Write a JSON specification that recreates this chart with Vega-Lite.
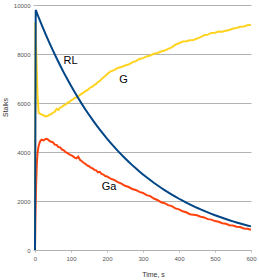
{
  "$schema": "https://vega.github.io/schema/vega-lite/v6.json",
  "width": 216,
  "height": 245,
  "autosize": {"type": "none"},
  "padding": {"left": 35, "top": 5, "right": 8, "bottom": 30},
  "background": "white",
  "config": {
    "view": {"stroke": null},
    "font": "Liberation Sans",
    "axis": {
      "labelFont": "Liberation Sans",
      "titleFont": "Liberation Sans",
      "labelFontSize": 6,
      "labelColor": "#555555",
      "titleFontSize": 7,
      "titleFontWeight": "normal",
      "titleColor": "#333333",
      "domain": false,
      "tickSize": 2,
      "tickColor": "#b3b3b3",
      "gridColor": "#b3b3b3",
      "gridWidth": 1,
      "labelPadding": 3,
      "labelFlush": false,
      "format": "d"
    }
  },
  "datasets": {
    "series": [
      {"s":"Ga","t":0,"v":0},{"s":"Ga","t":1,"v":1300},{"s":"Ga","t":3,"v":2600},{"s":"Ga","t":5,"v":3500},{"s":"Ga","t":7,"v":3950},{"s":"Ga","t":10,"v":4250},{"s":"Ga","t":14,"v":4430},{"s":"Ga","t":18,"v":4500},{"s":"Ga","t":24,"v":4470},{"s":"Ga","t":30,"v":4540},{"s":"Ga","t":35,"v":4520},{"s":"Ga","t":40,"v":4450},{"s":"Ga","t":45,"v":4420},{"s":"Ga","t":50,"v":4390},{"s":"Ga","t":55,"v":4300},{"s":"Ga","t":60,"v":4290},{"s":"Ga","t":65,"v":4200},{"s":"Ga","t":70,"v":4190},{"s":"Ga","t":75,"v":4100},{"s":"Ga","t":80,"v":4070},{"s":"Ga","t":85,"v":3990},{"s":"Ga","t":90,"v":3960},{"s":"Ga","t":95,"v":3900},{"s":"Ga","t":100,"v":3870},{"s":"Ga","t":105,"v":3830},{"s":"Ga","t":110,"v":3770},{"s":"Ga","t":115,"v":3740},{"s":"Ga","t":120,"v":3810},{"s":"Ga","t":125,"v":3680},{"s":"Ga","t":130,"v":3620},{"s":"Ga","t":135,"v":3560},{"s":"Ga","t":140,"v":3520},{"s":"Ga","t":145,"v":3450},{"s":"Ga","t":150,"v":3420},{"s":"Ga","t":155,"v":3360},{"s":"Ga","t":160,"v":3330},{"s":"Ga","t":165,"v":3270},{"s":"Ga","t":170,"v":3250},{"s":"Ga","t":175,"v":3170},{"s":"Ga","t":180,"v":3190},{"s":"Ga","t":185,"v":3110},{"s":"Ga","t":190,"v":3080},{"s":"Ga","t":195,"v":3020},{"s":"Ga","t":200,"v":3000},{"s":"Ga","t":210,"v":2910},{"s":"Ga","t":220,"v":2860},{"s":"Ga","t":230,"v":2770},{"s":"Ga","t":240,"v":2710},{"s":"Ga","t":250,"v":2620},{"s":"Ga","t":260,"v":2570},{"s":"Ga","t":270,"v":2490},{"s":"Ga","t":280,"v":2450},{"s":"Ga","t":290,"v":2370},{"s":"Ga","t":300,"v":2330},{"s":"Ga","t":310,"v":2240},{"s":"Ga","t":320,"v":2200},{"s":"Ga","t":330,"v":2100},{"s":"Ga","t":340,"v":2040},{"s":"Ga","t":350,"v":1950},{"s":"Ga","t":360,"v":1910},{"s":"Ga","t":370,"v":1830},{"s":"Ga","t":380,"v":1790},{"s":"Ga","t":390,"v":1700},{"s":"Ga","t":400,"v":1660},{"s":"Ga","t":410,"v":1580},{"s":"Ga","t":420,"v":1540},{"s":"Ga","t":430,"v":1460},{"s":"Ga","t":440,"v":1440},{"s":"Ga","t":450,"v":1420},{"s":"Ga","t":460,"v":1360},{"s":"Ga","t":470,"v":1330},{"s":"Ga","t":480,"v":1260},{"s":"Ga","t":490,"v":1240},{"s":"Ga","t":500,"v":1180},{"s":"Ga","t":510,"v":1150},{"s":"Ga","t":520,"v":1090},{"s":"Ga","t":530,"v":1070},{"s":"Ga","t":540,"v":1010},{"s":"Ga","t":550,"v":1000},{"s":"Ga","t":560,"v":950},{"s":"Ga","t":570,"v":940},{"s":"Ga","t":580,"v":880},{"s":"Ga","t":590,"v":870},{"s":"Ga","t":600,"v":830},
      {"s":"G","t":0,"v":0},{"s":"G","t":1,"v":9300},{"s":"G","t":4,"v":7800},{"s":"G","t":7,"v":6300},{"s":"G","t":10,"v":5600},{"s":"G","t":20,"v":5520},{"s":"G","t":30,"v":5450},{"s":"G","t":35,"v":5470},{"s":"G","t":40,"v":5520},{"s":"G","t":45,"v":5540},{"s":"G","t":50,"v":5610},{"s":"G","t":55,"v":5640},{"s":"G","t":60,"v":5760},{"s":"G","t":65,"v":5720},{"s":"G","t":70,"v":5810},{"s":"G","t":75,"v":5840},{"s":"G","t":80,"v":5910},{"s":"G","t":85,"v":5930},{"s":"G","t":90,"v":6010},{"s":"G","t":95,"v":6030},{"s":"G","t":100,"v":6110},{"s":"G","t":105,"v":6140},{"s":"G","t":110,"v":6210},{"s":"G","t":115,"v":6220},{"s":"G","t":120,"v":6280},{"s":"G","t":125,"v":6330},{"s":"G","t":130,"v":6380},{"s":"G","t":135,"v":6420},{"s":"G","t":140,"v":6490},{"s":"G","t":145,"v":6520},{"s":"G","t":150,"v":6580},{"s":"G","t":155,"v":6640},{"s":"G","t":160,"v":6670},{"s":"G","t":165,"v":6740},{"s":"G","t":170,"v":6780},{"s":"G","t":175,"v":6860},{"s":"G","t":180,"v":6890},{"s":"G","t":185,"v":6980},{"s":"G","t":190,"v":7040},{"s":"G","t":195,"v":7100},{"s":"G","t":200,"v":7170},{"s":"G","t":210,"v":7290},{"s":"G","t":220,"v":7340},{"s":"G","t":230,"v":7430},{"s":"G","t":240,"v":7470},{"s":"G","t":250,"v":7530},{"s":"G","t":260,"v":7570},{"s":"G","t":270,"v":7660},{"s":"G","t":280,"v":7710},{"s":"G","t":290,"v":7800},{"s":"G","t":300,"v":7830},{"s":"G","t":310,"v":7900},{"s":"G","t":320,"v":7940},{"s":"G","t":330,"v":8010},{"s":"G","t":340,"v":8040},{"s":"G","t":350,"v":8100},{"s":"G","t":360,"v":8140},{"s":"G","t":370,"v":8210},{"s":"G","t":380,"v":8270},{"s":"G","t":390,"v":8380},{"s":"G","t":400,"v":8440},{"s":"G","t":410,"v":8510},{"s":"G","t":420,"v":8520},{"s":"G","t":430,"v":8560},{"s":"G","t":440,"v":8570},{"s":"G","t":450,"v":8630},{"s":"G","t":460,"v":8690},{"s":"G","t":470,"v":8770},{"s":"G","t":480,"v":8790},{"s":"G","t":490,"v":8860},{"s":"G","t":500,"v":8870},{"s":"G","t":510,"v":8920},{"s":"G","t":520,"v":8910},{"s":"G","t":530,"v":8950},{"s":"G","t":540,"v":8980},{"s":"G","t":550,"v":9040},{"s":"G","t":560,"v":9060},{"s":"G","t":570,"v":9110},{"s":"G","t":580,"v":9120},{"s":"G","t":590,"v":9170},{"s":"G","t":600,"v":9190},
      {"s":"RL","t":0,"v":0},{"s":"RL","t":2,"v":9800},{"s":"RL","t":10,"v":9500},{"s":"RL","t":20,"v":9140},{"s":"RL","t":30,"v":8790},{"s":"RL","t":40,"v":8457},{"s":"RL","t":50,"v":8135},{"s":"RL","t":60,"v":7825},{"s":"RL","t":70,"v":7528},{"s":"RL","t":80,"v":7241},{"s":"RL","t":90,"v":6966},{"s":"RL","t":100,"v":6700},{"s":"RL","t":110,"v":6446},{"s":"RL","t":120,"v":6200},{"s":"RL","t":130,"v":5964},{"s":"RL","t":140,"v":5737},{"s":"RL","t":150,"v":5519},{"s":"RL","t":160,"v":5309},{"s":"RL","t":170,"v":5107},{"s":"RL","t":180,"v":4913},{"s":"RL","t":190,"v":4726},{"s":"RL","t":200,"v":4546},{"s":"RL","t":210,"v":4373},{"s":"RL","t":220,"v":4206},{"s":"RL","t":230,"v":4046},{"s":"RL","t":240,"v":3892},{"s":"RL","t":250,"v":3744},{"s":"RL","t":260,"v":3602},{"s":"RL","t":270,"v":3465},{"s":"RL","t":280,"v":3333},{"s":"RL","t":290,"v":3206},{"s":"RL","t":300,"v":3084},{"s":"RL","t":310,"v":2966},{"s":"RL","t":320,"v":2854},{"s":"RL","t":330,"v":2745},{"s":"RL","t":340,"v":2641},{"s":"RL","t":350,"v":2540},{"s":"RL","t":360,"v":2444},{"s":"RL","t":370,"v":2351},{"s":"RL","t":380,"v":2261},{"s":"RL","t":390,"v":2175},{"s":"RL","t":400,"v":2092},{"s":"RL","t":410,"v":2013},{"s":"RL","t":420,"v":1936},{"s":"RL","t":430,"v":1862},{"s":"RL","t":440,"v":1792},{"s":"RL","t":450,"v":1723},{"s":"RL","t":460,"v":1658},{"s":"RL","t":470,"v":1595},{"s":"RL","t":480,"v":1534},{"s":"RL","t":490,"v":1476},{"s":"RL","t":500,"v":1420},{"s":"RL","t":510,"v":1366},{"s":"RL","t":520,"v":1314},{"s":"RL","t":530,"v":1264},{"s":"RL","t":540,"v":1216},{"s":"RL","t":550,"v":1170},{"s":"RL","t":560,"v":1125},{"s":"RL","t":570,"v":1082},{"s":"RL","t":580,"v":1041},{"s":"RL","t":590,"v":1002},{"s":"RL","t":600,"v":963}
    ],
    "labels": [
      {"label":"RL","t":99,"v":7710},
      {"label":"G","t":246,"v":6940},
      {"label":"Ga","t":206,"v":2580}
    ]
  },
  "encoding": {
    "x": {
      "field": "t", "type": "quantitative",
      "scale": {"domain": [0, 600], "nice": false, "zero": false},
      "axis": {
        "title": "Time, s", "grid": false,
        "values": [0, 100, 200, 300, 400, 500, 600],
        "labelOverlap": false,
        "titleX": 118, "titleY": 26, "titleBaseline": "alphabetic", "titleAnchor": "middle"
      }
    },
    "y": {
      "field": "v", "type": "quantitative",
      "scale": {"domain": [0, 10000], "nice": false},
      "axis": {
        "title": "Stalks", "grid": true,
        "values": [0, 2000, 4000, 6000, 8000, 10000],
        "labelOverlap": false,
        "titleX": -28, "titleY": 102, "titleAngle": -90, "titleBaseline": "alphabetic", "titleAlign": "center"
      }
    }
  },
  "layer": [
    {
      "data": {"name": "series"},
      "mark": {"type": "line", "strokeWidth": 2, "interpolate": "linear"},
      "encoding": {
        "color": {
          "field": "s", "type": "nominal",
          "scale": {"domain": ["Ga", "G", "RL"], "range": ["#ff420e", "#ffd320", "#004586"]},
          "legend": null
        }
      }
    },
    {
      "data": {"name": "labels"},
      "mark": {"type": "text", "fontSize": 11, "color": "#000000", "align": "center", "baseline": "middle", "font": "Liberation Sans"},
      "encoding": {
        "text": {"field": "label"}
      }
    }
  ]
}
